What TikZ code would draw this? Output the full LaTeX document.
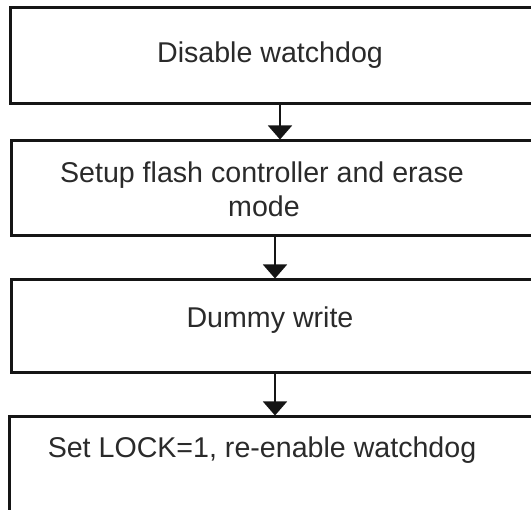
\documentclass[tikz,border=0pt]{standalone}
\usepackage{fontspec}
\setmainfont{Liberation Sans}
\usetikzlibrary{arrows.meta,positioning}
\definecolor{ink}{HTML}{151515}
\definecolor{txt}{HTML}{2A2A2A}
\tikzset{
  stepbox/.style={draw=ink, line width=3pt, rectangle, inner sep=0pt},
  steptext/.style={text=txt, font=\fontsize{28.6}{34}\selectfont, anchor=base, inner sep=0pt},
  flow/.style={draw=ink, line width=1.6pt, -{Triangle[width=24pt,length=14pt]}}
}
\begin{document}
\begin{tikzpicture}[x=1pt,y=-1pt]
\useasboundingbox (0,0) rectangle (531,510);
\clip (0,0) rectangle (531,510);
% process boxes (they run past the right edge)
\node[stepbox, minimum width=540pt, minimum height=96pt]  (b1) at (280,56) {};
\node[stepbox, minimum width=528pt, minimum height=95pt]  (b2) at (275,188.5) {};
\node[stepbox, minimum width=528pt, minimum height=93pt]  (b3) at (275,326.5) {};
\node[stepbox, minimum width=532pt, minimum height=110pt] (b4) at (275,472) {};
% labels
\node[steptext] (t1) at (270,63) {Disable watchdog};
\node[steptext] (t2a) at (262,183) {Setup flash controller and erase};
\node[steptext] (t2b) at (264,217) {mode};
\node[steptext] (t3) at (270,328) {Dummy write};
\node[steptext] (t4) at (262,458) {Set LOCK=1, re-enable watchdog};
% connectors
\draw[flow] (b1.south) -- (b1.south |- b2.north);
\draw[flow] (b2.south) -- (b3.north);
\draw[flow] (b3.south) -- (b4.north);
\end{tikzpicture}
\end{document}
